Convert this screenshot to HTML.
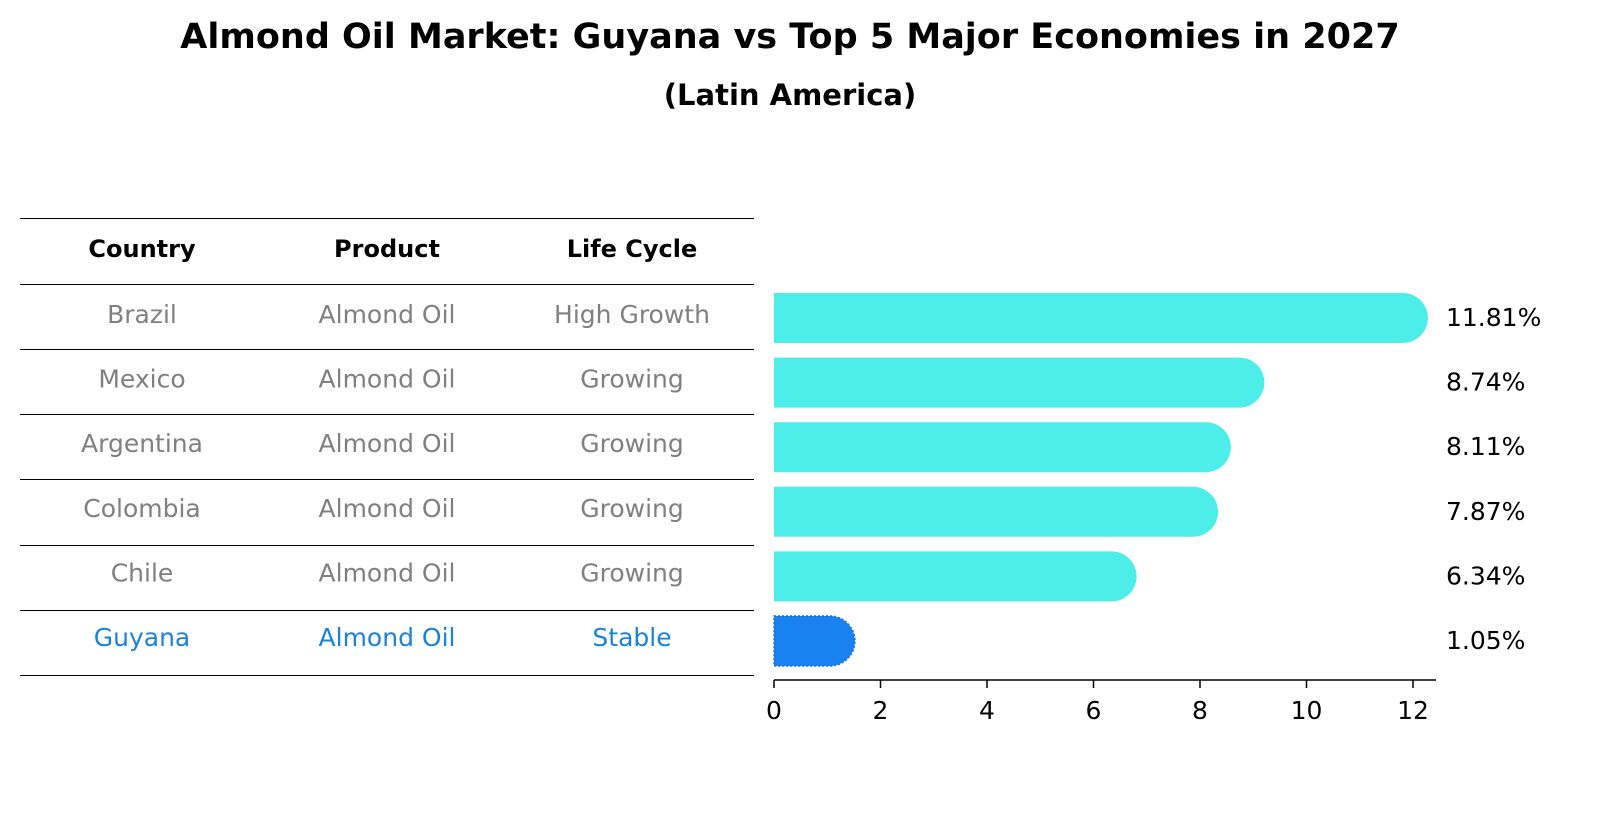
<!DOCTYPE html>
<html><head><meta charset="utf-8"><style>
body{margin:0;background:#fff;font-family:"Liberation Sans","DejaVu Sans",sans-serif}
</style></head><body>
<svg width="1604" height="823" xmlns="http://www.w3.org/2000/svg" font-family="DejaVu Sans, Liberation Sans, sans-serif">
<text x="790" y="38" text-anchor="middle" dominant-baseline="middle" font-size="35" font-weight="bold">Almond Oil Market: Guyana vs Top 5 Major Economies in 2027</text>
<text x="790" y="97" text-anchor="middle" dominant-baseline="middle" font-size="29" font-weight="bold">(Latin America)</text>
<g id="table"></g>
<g id="bars"></g>
<g id="axis"></g>
</svg>
<script>
const countries=["Brazil","Mexico","Argentina","Colombia","Chile","Guyana"];
const products=["Almond Oil","Almond Oil","Almond Oil","Almond Oil","Almond Oil","Almond Oil"];
const lifeCycles=["High Growth","Growing","Growing","Growing","Growing","Stable"];
const values=[11.81,8.74,8.11,7.87,6.34,1.05];
const ticks=[0,2,4,6,8,10,12];
const NS="http://www.w3.org/2000/svg";
function mk(t,a,p,txt){const e=document.createElementNS(NS,t);for(const k in a)e.setAttribute(k,a[k]);if(txt!==undefined)e.textContent=txt;p.appendChild(e);return e;}
const x=v=>774+v*53.25;
const rowY=i=>316+i*64.6;
const tbl=document.getElementById('table');
const lines=[218,284,349,414,479,545,610,675];
lines.forEach((y,i)=>{const l=mk('line',{x1:20,x2:754,y1:y+0.5,y2:y+0.5,stroke:'#000','stroke-width':1},tbl);

});
const cx=[142,387,632];
["Country","Product","Life Cycle"].forEach((h,j)=>{const t=mk('text',{x:cx[j],y:250,'text-anchor':'middle','dominant-baseline':'middle','font-size':24,'font-weight':'bold'},tbl,h);

});
countries.forEach((c,i)=>{const y=rowY(i);const col=c==="Guyana"?"#1a82d8":"#808080";
[c,products[i],lifeCycles[i]].forEach((s,j)=>{const t=mk('text',{x:cx[j],y:y,'text-anchor':'middle','font-size':25,fill:col,'dominant-baseline':'middle'},tbl,s);

});});
const bars=document.getElementById('bars');
const h=50,r=25;
values.forEach((v,i)=>{const cy=rowY(i)+2;const x1=x(v);const g=countries[i]==="Guyana";
const p=mk('path',{d:`M774 ${cy-h/2} H${x1} A${r} ${r} 0 0 1 ${x1} ${cy+h/2} H774 Z`,fill:g?'#1a82f0':'#4deeea'},bars);
if(g){p.setAttribute('stroke','#1a6fd0');p.setAttribute('stroke-dasharray','2 2');p.setAttribute('stroke-width','1.5');}


const t=mk('text',{x:1446,y:cy+1,'font-size':25,'dominant-baseline':'middle'},bars,v.toFixed(2)+'%');

});
const ax=document.getElementById('axis');
mk('line',{x1:774,x2:1436,y1:680,y2:680,stroke:'#000','stroke-width':1.5},ax);
ticks.forEach(v=>{mk('line',{x1:x(v),x2:x(v),y1:680,y2:688,stroke:'#000','stroke-width':1.5},ax);
const t=mk('text',{x:x(v),y:712,'text-anchor':'middle','dominant-baseline':'middle','font-size':25},ax,String(v));

});
</script>
</body></html>
